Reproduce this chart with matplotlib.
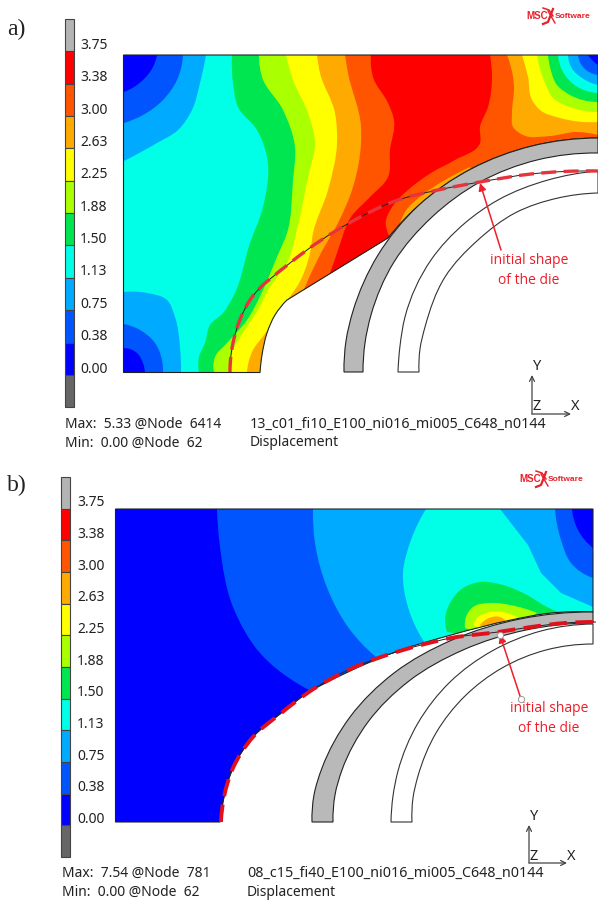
import math
import matplotlib
matplotlib.use("Agg")
import matplotlib.pyplot as plt
from matplotlib.path import Path
from matplotlib.patches import PathPatch, Rectangle

# ── Legend ───────────────────────────────────────────────────
levels = ["0.00", "0.38", "0.75", "1.13", "1.50", "1.88", "2.25", "2.63", "3.00", "3.38", "3.75"]
colors = ["#0000ff", "#0055ff", "#00aaff", "#00ffe6", "#00e650", "#aaff00",
          "#ffff00", "#ffaa00", "#ff5500", "#ff0000", "#b4b4b4"]
under_color = "#666666"

# ── Panel a: geometry (picture coordinates) ──────────────────
a_wp_curve1 = [(598, 138), (532, 146), (471, 169), (418, 206), (388, 238)]
a_wp_curve2 = [(287, 300), (275, 315), (267, 333), (262, 355), (260, 372.5)]
a_wp_corners = [(123.5, 372.5), (123.5, 55), (598, 55)]
a_gray_outer = [(344, 372), (346, 341), (353, 311), (378, 255), (418, 206), (471, 169), (532, 146), (598, 138)]
a_gray_inner = [(598, 153), (537, 160), (480, 182), (432, 217), (394, 262), (371, 315), (365, 343), (363, 372)]
a_white_outer = [(398, 372), (400, 346), (405, 317), (431, 260), (465, 223), (498, 200), (548, 180), (598, 171)]
a_white_inner = [(598, 193), (558, 198), (515, 213), (478, 240), (445, 277), (425, 327), (420, 349), (419, 372)]
a_initial = [(230, 372), (233, 343), (250, 300), (290, 263), (351, 222), (398, 200),
             (438, 190), (480, 182), (531, 174), (598, 171)]

# ── Panel a: contour bands, (level, curve, closing corners) ──
a_l150 = [(232, 55), (233, 83), (238, 107), (257, 130), (267, 157), (263, 207), (250, 243),
          (233, 297), (223, 313), (210, 325), (205, 343), (199, 357), (199, 372.5)]
a_l188 = [(259, 55), (262, 77), (283, 110), (295, 147), (293, 180), (287, 233), (277, 257),
          (263, 290), (247, 320), (227, 343), (215, 357), (214, 372.5)]
a_l225 = [(286, 55), (293, 80), (308, 113), (315, 143), (308, 177), (298, 225), (287, 263),
          (270, 287), (258, 310), (243, 333), (232, 353), (231, 372.5)]
a_l263 = [(317, 55), (320, 73), (335, 113), (337, 143), (328, 190), (313, 233), (310, 253),
          (298, 285), (289, 298), (280, 312), (264, 335), (253, 350), (247, 372.5)]
a_l300 = [(345, 55), (348, 73), (361, 127), (361, 143), (353, 187), (338, 223), (321, 253),
          (308, 280), (300, 300)]
a_l338_left = [(371, 55), (373, 77), (388, 103), (394, 120), (390, 150), (388, 177), (370, 197),
               (351, 217), (338, 250), (330, 273), (325, 285)]
a_l338_right = [(392, 250), (386, 220), (395, 203), (408, 190), (431, 173), (455, 160), (480, 143),
                (480, 127), (488, 107), (492, 77), (490, 55)]
a_pocket = [(398, 232), (405, 212), (425, 193), (445, 180), (470, 167)]
a_tr263 = [(507, 55), (513, 77), (514, 87), (512, 113), (513, 127), (523, 135), (550, 136), (577, 132), (598, 135)]
a_tr225 = [(522, 55), (528, 77), (532, 100), (540, 110), (560, 118), (598, 122)]
a_tr188 = [(537, 55), (545, 83), (553, 98), (570, 107), (598, 112)]
a_tr150 = [(548, 55), (550, 67), (557, 85), (570, 95), (598, 102)]
a_tr113 = [(558, 55), (562, 70), (572, 83), (598, 93)]
a_tr075 = [(568, 55), (573, 70), (582, 78), (598, 85)]
a_tr038 = [(578, 55), (583, 67), (598, 75)]
a_tr000 = [(588, 55), (592, 60), (598, 65)]
a_tl075 = [(206, 55), (200, 83), (192, 110), (178, 130), (157, 143), (124, 161)]
a_tl038 = [(183, 55), (177, 80), (163, 100), (143, 115), (124, 123)]
a_tl000 = [(157, 55), (153, 67), (143, 80), (124, 92)]
a_bl075 = [(124, 292), (147, 293), (167, 300), (175, 317), (180, 347), (181, 372.5)]
a_bl038 = [(124, 324), (140, 330), (155, 343), (162, 360), (163, 372.5)]
a_bl000 = [(124, 348), (137, 353), (143, 363), (145, 372.5)]
a_right = [(598, 380), (598, 55)]
a_tl_tail = [(123, 55)]
a_bl_tail = [(123, 373)]
a_tr_tail = [(598, 55)]
a_bands = [
    (4, a_l150, a_right), (5, a_l188, a_right), (6, a_l225, a_right), (7, a_l263, a_right),
    (8, a_l300, a_right), (9, a_l338_left + a_l338_right, []), (7, a_pocket, [(480, 200), (400, 250)]),
    (7, a_tr263, a_tr_tail), (6, a_tr225, a_tr_tail), (5, a_tr188, a_tr_tail), (4, a_tr150, a_tr_tail),
    (3, a_tr113, a_tr_tail), (2, a_tr075, a_tr_tail), (1, a_tr038, a_tr_tail), (0, a_tr000, a_tr_tail),
    (2, a_tl075, a_tl_tail), (1, a_tl038, a_tl_tail), (0, a_tl000, a_tl_tail),
    (2, a_bl075, a_bl_tail), (1, a_bl038, a_bl_tail), (0, a_bl000, a_bl_tail),
]

# ── Panel b: geometry ────────────────────────────────────────
b_wp_curve = [(593, 612), (551, 613), (511, 620), (451, 635), (398, 651), (348, 672), (300, 698),
              (280, 714), (253, 737), (233, 768), (224, 797), (220, 822)]
b_wp_corners = [(115.5, 822), (115.5, 509), (593, 509)]
b_gray_outer = [(312, 822), (314, 795), (322, 768), (350, 717), (394, 673), (452, 640), (520, 619), (593, 612)]
b_gray_inner = [(593, 623), (526, 630), (463, 650), (409, 681), (368, 722), (342, 770), (335, 795), (333, 822)]
b_white_outer = [(391, 822), (393, 796), (398, 771), (418, 723), (450, 682), (492, 651), (541, 631), (593, 624)]
b_white_inner = [(593, 644), (546, 650), (502, 668), (465, 696), (436, 733), (418, 776), (413, 798), (412, 822)]
b_initial = [(221, 822), (224, 797), (233, 768), (253, 737), (280, 714), (315, 688),
             (348, 670), (381, 657), (421, 645), (451, 638), (498, 632), (531, 627), (565, 623), (596, 622)]

# ── Panel b: contour bands ───────────────────────────────────
b_l038 = [(217, 509), (220, 547), (233, 607), (260, 653), (300, 685), (311, 691)]
b_l075 = [(313, 509), (315, 543), (328, 590), (348, 627), (376, 657)]
b_l113 = [(426, 509), (411, 540), (403, 573), (408, 607), (423, 640)]
b_r113 = [(593, 607), (561, 593), (541, 573), (528, 545), (500, 509)]
b_r038 = [(555, 509), (561, 540), (571, 563), (593, 578)]
b_r000 = [(572, 509), (578, 530), (593, 548)]
b_l150 = [(447, 632), (446, 613), (450, 603), (463, 588), (480, 582), (503, 585), (527, 595), (547, 607), (558, 612)]
b_l188 = [(465, 628), (466, 617), (473, 607), (490, 603), (510, 605), (537, 613)]
b_l225 = [(473, 625), (478, 617), (490, 612), (507, 613), (517, 617)]
b_l263 = [(480, 625), (487, 619), (500, 617), (505, 620)]
b_bands = [
    (1, b_l038, [(593, 700), (593, 509)]), (2, b_l075, [(593, 670), (593, 509)]),
    (3, b_l113, [(440, 660), (593, 650)] + b_r113),
    (1, b_r038, [(593, 509)]), (0, b_r000, [(593, 509)]),
    (4, b_l150, [(500, 640)]), (5, b_l188, [(500, 640)]), (6, b_l225, [(500, 640)]), (7, b_l263, [(495, 640)]),
]


def smooth(pts):
    # bezier through the read knots, tangents weighted for uneven knot spacing
    n = len(pts)
    if n == 2:
        return [pts[0], pts[1], pts[1]], [Path.CURVE4] * 3
    tang = [None] * n
    for i in range(1, n - 1):
        d1, d2 = math.dist(pts[i - 1], pts[i]), math.dist(pts[i], pts[i + 1])
        tx = d2 * (pts[i][0] - pts[i - 1][0]) / d1 + d1 * (pts[i + 1][0] - pts[i][0]) / d2
        ty = d2 * (pts[i][1] - pts[i - 1][1]) / d1 + d1 * (pts[i + 1][1] - pts[i][1]) / d2
        s = math.hypot(tx, ty) or 1.0
        tang[i] = (tx / s, ty / s)
    for i, j, sign in [(0, 1, 1), (n - 1, n - 2, -1)]:
        d = math.dist(pts[i], pts[j])
        tang[i] = (2 * sign * (pts[j][0] - pts[i][0]) / d - tang[j][0],
                   2 * sign * (pts[j][1] - pts[i][1]) / d - tang[j][1])
    verts, codes = [], []
    for i in range(n - 1):
        p1, p2 = pts[i], pts[i + 1]
        h = math.dist(p1, p2) / 3
        verts += [(p1[0] + tang[i][0] * h, p1[1] + tang[i][1] * h),
                  (p2[0] - tang[i + 1][0] * h, p2[1] - tang[i + 1][1] * h), p2]
        codes += [Path.CURVE4] * 3
    return verts, codes


def outline(parts, close=True):
    # each part is smoothed inside, parts are joined with straight lines
    verts, codes = [], []
    for part in parts:
        verts.append(part[0])
        codes.append(Path.LINETO if codes else Path.MOVETO)
        if len(part) > 1:
            v, c = smooth(part)
            verts += v
            codes += c
    if close:
        verts.append(verts[0])
        codes.append(Path.CLOSEPOLY)
    return Path(verts, codes)


def draw_panel(ax, wp_parts, base, bands, gray, white, initial, dash_lw, dash_color):
    wp = PathPatch(outline(wp_parts), fc=colors[base], ec="none", zorder=1)
    ax.add_patch(wp)
    for lev, curve, tail in bands:
        parts = [curve] + [[t] for t in tail]
        band = PathPatch(outline(parts), fc=colors[lev], ec="none", zorder=2)
        ax.add_patch(band)
        band.set_clip_path(wp)
    ax.add_patch(PathPatch(outline(wp_parts), fc="none", ec="#222222", lw=0.8, zorder=3))
    ax.add_patch(PathPatch(outline(white), fc="white", ec="#333333", lw=0.8, zorder=4))
    ax.add_patch(PathPatch(outline(gray), fc="#b9b9b9", ec="#222222", lw=0.8, zorder=4))
    ax.add_patch(PathPatch(outline([initial], close=False), fc="none", ec="#222222", lw=0.7, zorder=5))
    ax.add_patch(PathPatch(outline([initial], close=False), fc="none", ec=dash_color, lw=dash_lw,
                           ls=(0, (4.5, 2.2)), zorder=6))


def colorbar(ax, x0, width, top, step, label_x):
    seq = [colors[10]] + colors[9::-1] + [under_color]
    for i, c in enumerate(seq):
        ax.add_patch(Rectangle((x0, top + i * step), width, step, fc=c, ec="#444444", lw=0.8))
    for i, lab in enumerate(levels):
        ax.text(label_x, top + step * (10 - i) + step * 0.82, lab, ha="left", va="center",
                fontsize=10, color="#222222", family="Noto Sans")


def triad(ax, ox, oy, ytop, xright):
    style = dict(arrowstyle="->", color="#444444", lw=0.9, mutation_scale=9, shrinkA=0, shrinkB=0)
    ax.annotate("", xy=(ox, ytop), xytext=(ox, oy), arrowprops=style)
    ax.annotate("", xy=(xright, oy), xytext=(ox, oy), arrowprops=style)
    for s, x, y in [("Y", ox + 5, ytop - 8), ("Z", ox + 5, oy - 7), ("X", xright + 4, oy - 7)]:
        ax.text(x, y, s, ha="center", va="center", fontsize=10.5, color="#222222", family="Noto Sans")


def logo(ax, x, y):
    red = "#e8202a"
    ax.text(x, y, "MSC", ha="left", va="center", fontsize=7, fontweight="bold", color=red, family="Liberation Sans")
    ax.text(x + 29, y + 0.5, "Software", ha="left", va="center", fontsize=6, fontweight="bold", color=red,
            family="Liberation Sans")
    ax.plot([x + 17, x + 23, x + 27], [y - 8, y - 6, y + 0], color=red, lw=1.1)
    ax.plot([x + 17, x + 22, x + 27], [y + 8, y + 6, y - 7], color=red, lw=1.6)
    ax.plot([x + 22, x + 29], [y - 5, y + 7], color=red, lw=1.0)


def info(ax, x1, x2, y1, y2, max_text, min_text, name):
    kw = dict(ha="left", va="center", fontsize=10, color="#222222", family="Noto Sans")
    ax.text(x1, y1, max_text, **kw)
    ax.text(x1, y2, min_text, **kw)
    ax.text(x2, y1, name, **{**kw, "fontsize": 10.3})
    ax.text(x2, y2, "Displacement", **kw)


def note(ax, tail, tip, cx, y1, y2, dots):
    red = "#f01e28"
    ax.annotate("", xy=tip, xytext=tail, zorder=8,
                arrowprops=dict(arrowstyle="-|>", color=red, lw=1.1, mutation_scale=11, shrinkA=0, shrinkB=0))
    if dots:
        ax.plot(*zip(tail, tip), ls="none", marker="o", ms=4.5, mfc="white", mec="#999999", mew=0.7, zorder=9)
    kw = dict(ha="center", va="center", fontsize=10, color=red, family="Open Sans")
    ax.text(cx, y1, "initial shape", **kw)
    ax.text(cx, y2, "of the die", **kw)


fig = plt.figure(figsize=(5.98, 9.0), dpi=100)
ax = fig.add_axes([0, 0, 1, 1])
ax.set_xlim(0, 598)
ax.set_ylim(900, 0)
ax.axis("off")

# ── Panel a ──────────────────────────────────────────────────
draw_panel(ax, [a_wp_curve1, a_wp_curve2] + [[p] for p in a_wp_corners], 3, a_bands,
           [a_gray_outer, a_gray_inner], [a_white_outer, a_white_inner], a_initial, 2.4, "#e8333c")
colorbar(ax, 65, 8.5, 19, 32.35, 80)
triad(ax, 532, 414, 375, 571)
logo(ax, 526, 16)
info(ax, 65, 250, 424, 443, "Max:  5.33 @Node  6414", "Min:  0.00 @Node  62",
     "13_c01_fi10_E100_ni016_mi005_C648_n0144")
note(ax, (501, 250), (480, 183), 529, 260, 280, False)
ax.text(7, 29, "a)", ha="left", va="center", fontsize=17, color="#222222", family="Liberation Serif")

# ── Panel b ──────────────────────────────────────────────────
draw_panel(ax, [b_wp_curve] + [[p] for p in b_wp_corners], 0, b_bands,
           [b_gray_outer, b_gray_inner], [b_white_outer, b_white_inner], b_initial, 2.8, "#e0101c")
colorbar(ax, 61, 9, 477, 31.67, 77)
triad(ax, 529, 863, 825, 567)
logo(ax, 519, 479)
info(ax, 61.5, 247, 873, 892, "Max:  7.54 @Node  781", "Min:  0.00 @Node  62",
     "08_c15_fi40_E100_ni016_mi005_C648_n0144")
note(ax, (521, 699), (500, 635), 549, 709, 729, True)
ax.text(7, 485, "b)", ha="left", va="center", fontsize=17, color="#222222", family="Liberation Serif")

plt.savefig("out.png", dpi=100)
